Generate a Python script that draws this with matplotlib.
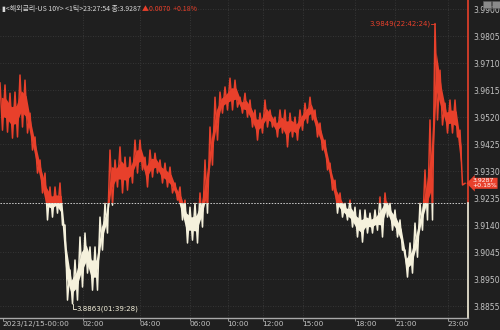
import matplotlib
matplotlib.use("Agg")
import matplotlib.pyplot as plt
from matplotlib.patches import Rectangle
from matplotlib.transforms import blended_transform_factory
import numpy as np

# tick chart of US 10Y yield, 2023-12-15; per-bucket highs / lows
bucket_hi = [3.9640, 3.9633, 3.9604, 3.9608, 3.9668, 3.9650, 3.9534, 3.9450, 3.9369, 3.9323,
             3.9274, 3.9274, 3.9288, 3.9140, 3.8982, 3.9017, 3.9098, 3.9112, 3.9063, 3.9063,
             3.9168, 3.9217, 3.9404, 3.9369, 3.9415, 3.9379, 3.9379, 3.9439, 3.9439, 3.9379,
             3.9404, 3.9393, 3.9369, 3.9358, 3.9344, 3.9288, 3.9274, 3.9228, 3.9203, 3.9217,
             3.9253, 3.9369, 3.9485, 3.9590, 3.9608, 3.9626, 3.9657, 3.9650, 3.9590, 3.9604,
             3.9580, 3.9545, 3.9534, 3.9580, 3.9545, 3.9520, 3.9545, 3.9545, 3.9534, 3.9520,
             3.9545, 3.9569, 3.9590, 3.9545, 3.9499, 3.9439, 3.9358, 3.9298, 3.9253, 3.9217,
             3.9228, 3.9203, 3.9193, 3.9193, 3.9182, 3.9193, 3.9239, 3.9253, 3.9217, 3.9193,
             3.9158, 3.9052, 3.9077, 3.9147, 3.9217, 3.9334, 3.9510, 3.9849, 3.9685, 3.9569,
             3.9580, 3.9580, 3.9474]
bucket_lo = [3.9474, 3.9467, 3.9446, 3.9450, 3.9485, 3.9464, 3.9404, 3.9323, 3.9253, 3.9158,
             3.9168, 3.9182, 3.9140, 3.8876, 3.8863, 3.8876, 3.8922, 3.8971, 3.8911, 3.8911,
             3.9052, 3.9112, 3.9210, 3.9274, 3.9253, 3.9263, 3.9288, 3.9323, 3.9334, 3.9274,
             3.9309, 3.9323, 3.9288, 3.9274, 3.9253, 3.9228, 3.9158, 3.9077, 3.9087, 3.9077,
             3.9133, 3.9182, 3.9351, 3.9439, 3.9534, 3.9545, 3.9545, 3.9555, 3.9534, 3.9520,
             3.9485, 3.9439, 3.9464, 3.9485, 3.9485, 3.9450, 3.9464, 3.9415, 3.9450, 3.9439,
             3.9474, 3.9499, 3.9510, 3.9450, 3.9404, 3.9334, 3.9263, 3.9182, 3.9168, 3.9158,
             3.9133, 3.9098, 3.9080, 3.9112, 3.9112, 3.9122, 3.9098, 3.9168, 3.9122, 3.9098,
             3.9052, 3.8957, 3.8971, 3.9027, 3.9122, 3.9158, 3.9158, 3.9510, 3.9492, 3.9464,
             3.9464, 3.9450, 3.9281]
last_price = 3.9287
prev_close = 3.9217
change = 0.0070
change_pct = 0.18
max_label = "3.9849(22:42:24)"
min_label = "3.8863(01:39:28)"

y_ticks = [3.9900, 3.9805, 3.9710, 3.9615, 3.9520, 3.9425, 3.9330, 3.9235,
           3.9140, 3.9045, 3.8950, 3.8855]
time_labels = ["2023/12/15-00:00", "02:00", "04:00", "06:00", "10:00", "12:00",
               "15:00", "18:00", "21:00", "23:00"]
time_tick_idx = [1, 33, 56, 76, 91, 105, 121, 142, 158, 179]

BG = "#1f1f1f"
RED = "#e8402b"
CREAM = "#f5f1dc"
GRID = "#3d3d3d"
LBL = "#c4c4c4"
KR = ["Noto Sans CJK KR", "DejaVu Sans"]

hi = np.array(bucket_hi)
lo = np.array(bucket_lo)
series = np.append(np.column_stack([hi, lo]).ravel(), last_price)
x = np.arange(len(series))
xb = np.arange(len(hi)) * 2 + 0.5
rng_ = hi - lo

fig = plt.figure(figsize=(5, 3.3), dpi=100, facecolor=BG)
ax = fig.add_axes([0, 12 / 330, 468 / 500, 318 / 330], facecolor=BG)
ylo, yhi = 3.8813, 3.9932
xmax = 187.2
ax.set_xlim(0, xmax)
ax.set_ylim(ylo, yhi)

for s in ax.spines.values():
    s.set_visible(False)
ax.spines["bottom"].set_visible(True)
ax.spines["bottom"].set_color("#a8a8a8")
ax.spines["bottom"].set_linewidth(1.0)

# grid
for v in y_ticks:
    ax.axhline(v, color=GRID, lw=0.6, ls=(0, (1, 2)), zorder=0)
for t in time_tick_idx[1:]:
    ax.axvline(t, color=GRID, lw=0.6, ls=(0, (1, 2)), zorder=0)

# price trace, red above previous close, cream below
up = Rectangle((0, prev_close), xmax, yhi - prev_close, transform=ax.transData)
dn = Rectangle((0, ylo), xmax, prev_close - ylo, transform=ax.transData)
for clip, col in ((up, RED), (dn, CREAM)):
    core = ax.fill_between(xb, lo + 0.3 * rng_, hi - 0.3 * rng_, color=col, lw=0, zorder=3)
    core.set_clip_path(clip)
    ln, = ax.plot(x, series, color=col, lw=1.1, zorder=3)
    ln.set_clip_path(clip)

ax.axhline(prev_close, color="#cfcfcf", lw=0.7, ls=(0, (1.5, 1.5)), zorder=4)

# right axis line split at previous close
frac = (prev_close - ylo) / (yhi - ylo)
ax.axvline(xmax, ymin=frac, ymax=1, color=RED, lw=1.2, clip_on=False)
ax.axvline(xmax, ymin=0, ymax=frac, color=CREAM, lw=1.2, clip_on=False)

ax.yaxis.tick_right()
ax.set_yticks(y_ticks)
ax.set_yticklabels([f"{v:.4f}" for v in y_ticks])
ax.tick_params(axis="y", length=0, pad=4, labelsize=5.5, labelcolor=LBL)

ax.set_xticks(time_tick_idx)
ax.set_xticklabels(time_labels, ha="left")
ax.tick_params(axis="x", length=2, width=0.6, color="#a8a8a8", pad=0.5,
               labelsize=5.3, labelcolor=LBL)

# max / min annotations
imax = int(np.argmax(series))
vmax = series[imax]
ax.plot([imax - 1.6, imax], [vmax, vmax], color=RED, lw=0.6, zorder=5)
ax.text(imax - 1.9, vmax, max_label, color=RED, fontsize=5, ha="right", va="center")

imin = int(np.argmin(series))
vmin = series[imin]
dy = 0.0018
ax.plot([imin, imin, imin + 1.4], [vmin, vmin - dy, vmin - dy], color=CREAM, lw=0.6,
        zorder=5, clip_on=False)
ax.text(imin + 1.6, vmin - dy, min_label, color=CREAM, fontsize=5, ha="left", va="center")

# current price tag
tr = blended_transform_factory(ax.transAxes, ax.transData)
ax.text(1.009, last_price, f"{last_price:.4f}\n+{change_pct:.2f}%", transform=tr,
        color="white", fontsize=4.4, ha="left", va="center", linespacing=0.95,
        bbox=dict(boxstyle="larrow,pad=0.1", fc=RED, ec="none"), zorder=6)

# header
fig.text(0.004, 0.985, f"▮<해외금리-US 10Y> <1틱>23:27:54 종:{last_price:.4f}",
         color="#d8d8d8", fontsize=5.0, family=KR, ha="left", va="top")
fig.text(0.285, 0.985, f"▲{change:.4f}  +{change_pct:.2f}%", color=RED, fontsize=5.0,
         family=KR, ha="left", va="top")

# small window icons top right
for x0 in (0.966, 0.984):
    fig.patches.append(Rectangle((x0, 0.975), 0.015, 0.022, transform=fig.transFigure,
                                 fc="#8a8a8a", ec="#5a5a5a", lw=0.4))

fig.savefig("out.png", dpi=100, facecolor=BG)
